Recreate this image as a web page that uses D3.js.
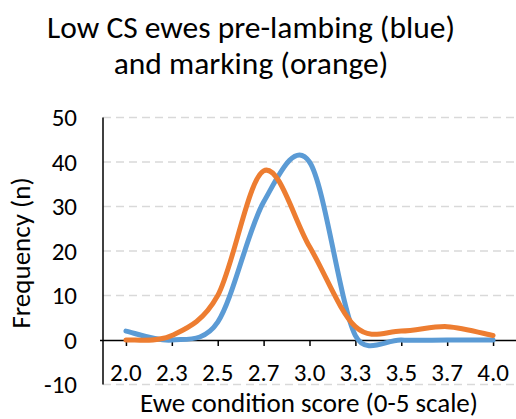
<!DOCTYPE html>
<html>
<head>
<meta charset="utf-8">
<script src="https://cdn.jsdelivr.net/npm/d3@7"></script>
<style>
  html, body { margin: 0; padding: 0; background: #fff; }
  svg { display: block; font-family: Carlito, Calibri, Lato, "Open Sans", sans-serif; }
</style>
</head>
<body>
<svg id="chart" width="516" height="419"></svg>
<script>
const categories = ["2.0", "2.3", "2.5", "2.7", "3.0", "3.3", "3.5", "3.7", "4.0"];
const preLambing = [2, 0, 4, 31, 40, 1, 0, 0, 0];   // blue
const marking    = [0, 1, 10, 38, 21, 3, 2, 3, 1];   // orange
const yTicks = [-10, 0, 10, 20, 30, 40, 50];
const titleLines = ["Low CS ewes pre-lambing (blue)", "and marking (orange)"];
const xTitle = "Ewe condition score (0-5 scale)";
const yTitle = "Frequency (n)";

const svg = d3.select("#chart");
const pLeft = 103, pRight = 516, pTop = 117.5, pBottom = 384.5;

const x = d3.scalePoint().domain(categories).range([pLeft, pRight]).padding(0.5);
const y = d3.scaleLinear().domain([-10, 50]).range([pBottom, pTop]);

// Spreadsheet-style smoothed line: cubic Bezier with 1/6 tangents, clamped to half the segment
function SmoothCurve(context) { this._context = context; }
SmoothCurve.prototype = {
  areaStart() {}, areaEnd() {},
  lineStart() { this._pts = []; },
  point(px, py) { this._pts.push([+px, +py]); },
  lineEnd() {
    const p = this._pts, c = this._context, n = p.length;
    if (!n) return;
    c.moveTo(p[0][0], p[0][1]);
    const tan = (a, b, lim) => {
      let dx = (b[0] - a[0]) / 6, dy = (b[1] - a[1]) / 6;
      const len = Math.hypot(dx, dy);
      if (len > lim && len > 0) { dx *= lim / len; dy *= lim / len; }
      return [dx, dy];
    };
    for (let i = 0; i < n - 1; i++) {
      const P0 = p[Math.max(i - 1, 0)], P1 = p[i], P2 = p[i + 1], P3 = p[Math.min(i + 2, n - 1)];
      const half = Math.hypot(P2[0] - P1[0], P2[1] - P1[1]) / 2;
      const t1 = tan(P0, P2, half), t2 = tan(P1, P3, half);
      c.bezierCurveTo(P1[0] + t1[0], P1[1] + t1[1], P2[0] - t2[0], P2[1] - t2[1], P2[0], P2[1]);
    }
  }
};
const smoothCurve = ctx => new SmoothCurve(ctx);

// title
svg.append("g").selectAll("text").data(titleLines).join("text")
  .attr("x", 251).attr("y", (d, i) => 38 + i * 36)
  .attr("text-anchor", "middle").attr("font-size", 31.5).attr("fill", "#000")
  .text(d => d);

// gridlines
svg.append("g").selectAll("line").data(yTicks.filter(t => t !== 0)).join("line")
  .attr("x1", pLeft).attr("x2", pRight)
  .attr("y1", d => y(d)).attr("y2", d => y(d))
  .attr("stroke", "#d9d9d9").attr("stroke-width", 1.5).attr("stroke-dasharray", "8,5");

// y axis line
svg.append("line").attr("x1", pLeft).attr("x2", pLeft).attr("y1", pTop).attr("y2", pBottom)
  .attr("stroke", "#000").attr("stroke-width", 1.5);

// y tick labels
svg.append("g").selectAll("text").data(yTicks).join("text")
  .attr("x", 77).attr("y", d => y(d)).attr("dy", "0.35em")
  .attr("text-anchor", "end").attr("font-size", 25).attr("fill", "#000")
  .text(d => d);

// x axis (at y = 0)
const xAxis = d3.axisBottom(x).tickSize(6).tickFormat("");
const gx = svg.append("g").attr("transform", `translate(0,${y(0)})`).call(xAxis);
gx.select(".domain").attr("d", `M${pLeft - 3},0.5H${pRight}`).attr("stroke", "#000").attr("stroke-width", 1.5);
gx.selectAll(".tick line").attr("stroke", "#000").attr("stroke-width", 1.5);

// x tick labels (at bottom)
svg.append("g").selectAll("text").data(categories).join("text")
  .attr("x", d => x(d)).attr("y", 381)
  .attr("text-anchor", "middle").attr("font-size", 25).attr("fill", "#000")
  .text(d => d);

// axis titles
svg.append("text").attr("x", 309).attr("y", 411.5)
  .attr("text-anchor", "middle").attr("font-size", 27).attr("fill", "#000").text(xTitle);
svg.append("text").attr("transform", `translate(30,${253}) rotate(-90)`)
  .attr("text-anchor", "middle").attr("font-size", 27).attr("fill", "#000").text(yTitle);

// lines
const line = d3.line()
  .x((d, i) => x(categories[i]))
  .y(d => y(d))
  .curve(smoothCurve);

svg.append("path").datum(preLambing).attr("d", line)
  .attr("fill", "none").attr("stroke", "#5B9BD5").attr("stroke-width", 5)
  .attr("stroke-linecap", "round").attr("stroke-linejoin", "round");
svg.append("path").datum(marking).attr("d", line)
  .attr("fill", "none").attr("stroke", "#ED7D31").attr("stroke-width", 5)
  .attr("stroke-linecap", "round").attr("stroke-linejoin", "round");
</script>
</body>
</html>
